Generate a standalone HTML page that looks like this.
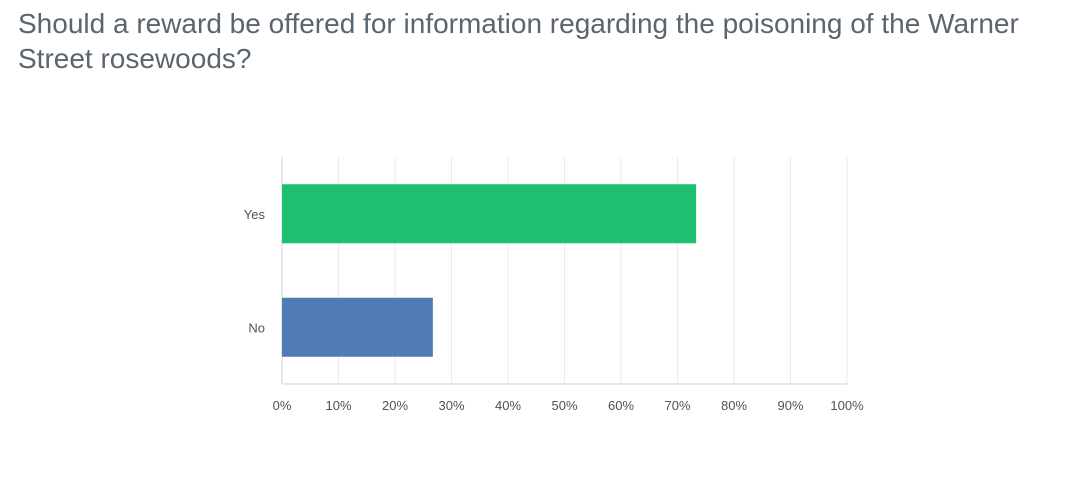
<!DOCTYPE html>
<html><head><meta charset="utf-8"><style>
html,body{margin:0;padding:0;background:#fff;width:1080px;height:477px;overflow:hidden;font-family:"Liberation Sans",sans-serif;}
#title{position:absolute;left:18px;top:6px;width:1050px;font-size:28px;line-height:35px;color:#5a6570;font-weight:normal;margin:0;}
svg{position:absolute;left:0;top:0;}
</style></head><body>
<h1 id="title">Should a reward be offered for information regarding the poisoning of the Warner Street rosewoods?</h1>
<svg id="chart" width="1080" height="477"></svg>
<script>
const categories=["Yes","No"];
const values=[73.3,26.7];
const colors=["#1fbf70","#507cb6"];
const tickValues=[0,10,20,30,40,50,60,70,80,90,100];
const tickLabels=["0%","10%","20%","30%","40%","50%","60%","70%","80%","90%","100%"];
const NS="http://www.w3.org/2000/svg";
const svg=document.getElementById('chart');
const x0=282,x1=847,yTop=157,yBot=384;
const xs=v=>x0+(x1-x0)*v/100;
const bandH=(yBot-yTop)/categories.length;
function mk(t,a){const e=document.createElementNS(NS,t);for(const k in a)e.setAttribute(k,a[k]);svg.appendChild(e);return e;}
tickValues.forEach((v,i)=>{
  const g=mk('line',{x1:xs(v),x2:xs(v),y1:yTop,y2:yBot,stroke:i===0?'#cfd3d6':'#ebebeb','stroke-width':1});
  
  
  const t=mk('text',{x:xs(v),y:410,'text-anchor':'middle','font-size':13,fill:'#4a545c','font-family':'Liberation Sans, sans-serif'});
  t.textContent=tickLabels[i];
  
  
});
const ax=mk('line',{x1:x0,x2:x1,y1:yBot,y2:yBot,stroke:'#cfd3d6','stroke-width':1});


categories.forEach((c,i)=>{
  const cy=yTop+bandH*(i+0.5);
  const h=bandH*0.52;
  const r=mk('rect',{x:x0,y:cy-h/2,width:xs(values[i])-x0,height:h,fill:colors[i]});
  
  
  const t=mk('text',{x:265,y:cy+5,'text-anchor':'end','font-size':13,fill:'#4a545c','font-family':'Liberation Sans, sans-serif'});
  t.textContent=c;
  
  
});
</script>
</body></html>
